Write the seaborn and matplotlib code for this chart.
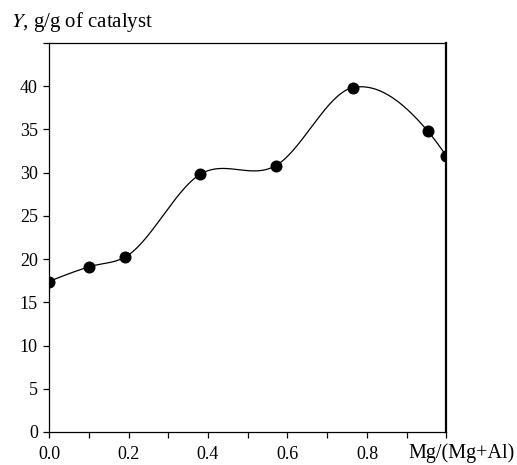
import numpy as np
import pandas as pd
import matplotlib
matplotlib.use("Agg")
import matplotlib.pyplot as plt
import seaborn as sns

# Data
mg_ratio = [0.0, 0.10, 0.19, 0.38, 0.57, 0.765, 0.953, 1.0]
yield_vals = [17.4, 19.1, 20.2, 29.8, 30.8, 39.85, 34.8, 31.9]
x_ticks = [0.0, 0.2, 0.4, 0.6, 0.8]
x_tick_labels = ["0.0", "0.2", "0.4", "0.6", "0.8"]
y_ticks = [0, 5, 10, 15, 20, 25, 30, 35, 40, 45]
y_tick_labels = ["0", "5", "10", "15", "20", "25", "30", "35", "40", ""]


def bessel_hermite(x, y, xs):
    """Smooth curve through the data points (Hermite with Bessel tangents)."""
    x = np.asarray(x, float)
    y = np.asarray(y, float)
    n = len(x)
    h = np.diff(x)
    d = np.diff(y) / h
    m = np.zeros(n)
    for i in range(1, n - 1):
        m[i] = (h[i] * d[i - 1] + h[i - 1] * d[i]) / (h[i - 1] + h[i])
    m[0] = ((2 * h[0] + h[1]) * d[0] - h[0] * d[1]) / (h[0] + h[1])
    m[-1] = ((2 * h[-1] + h[-2]) * d[-1] - h[-1] * d[-2]) / (h[-1] + h[-2])
    out = np.empty_like(xs)
    for k, xv in enumerate(xs):
        i = min(max(np.searchsorted(x, xv) - 1, 0), n - 2)
        t = (xv - x[i]) / h[i]
        h00 = 2 * t**3 - 3 * t**2 + 1
        h10 = t**3 - 2 * t**2 + t
        h01 = -2 * t**3 + 3 * t**2
        h11 = t**3 - t**2
        out[k] = h00 * y[i] + h10 * h[i] * m[i] + h01 * y[i + 1] + h11 * h[i] * m[i + 1]
    return out


sns.set_style("ticks")
plt.rcParams["font.family"] = ["Liberation Serif", "DejaVu Serif"]
plt.rcParams["mathtext.fontset"] = "stix"

fig = plt.figure(figsize=(5.17, 4.65), dpi=100)
ax = fig.add_axes([0.0948, 0.071, 0.7688, 0.8365])

xs = np.linspace(mg_ratio[0], mg_ratio[-1], 400)
ys = bessel_hermite(mg_ratio, yield_vals, xs)
curve = pd.DataFrame({"x": xs, "y": ys})
pts = pd.DataFrame({"x": mg_ratio, "y": yield_vals})

sns.lineplot(data=curve, x="x", y="y", ax=ax, color="black", linewidth=0.9, sort=False)
sns.scatterplot(data=pts, x="x", y="y", ax=ax, color="black", s=75, edgecolor="black",
                linewidth=0, zorder=3)

ax.set_xlim(0, 1.0)
ax.set_ylim(0, 45)
ax.set_xticks(x_ticks)
ax.set_xticklabels(x_tick_labels)
ax.set_xticks([0.1, 0.3, 0.5, 0.7, 0.9, 1.0], minor=True)
ax.set_yticks(y_ticks)
ax.set_yticklabels(y_tick_labels)
ax.tick_params(axis="both", which="both", direction="out", length=4, width=0.9,
               color="black", labelsize=13, labelcolor="black")
ax.tick_params(axis="x", which="major", pad=6)
ax.tick_params(axis="y", which="major", pad=4)
for s in ax.spines.values():
    s.set_visible(True)
    s.set_color("black")
    s.set_linewidth(0.9)
ax.spines["right"].set_linewidth(1.6)
ax.set_xlabel("")
ax.set_ylabel("")

fig.text(0.021, 0.953, "$Y$, g/g of catalyst", fontsize=15, ha="left", va="center",
         color="black")
fig.text(0.996, 0.016, "Mg/(Mg+Al)", fontsize=14.5, ha="right", va="baseline", color="black")

fig.savefig("out.png", dpi=100)
